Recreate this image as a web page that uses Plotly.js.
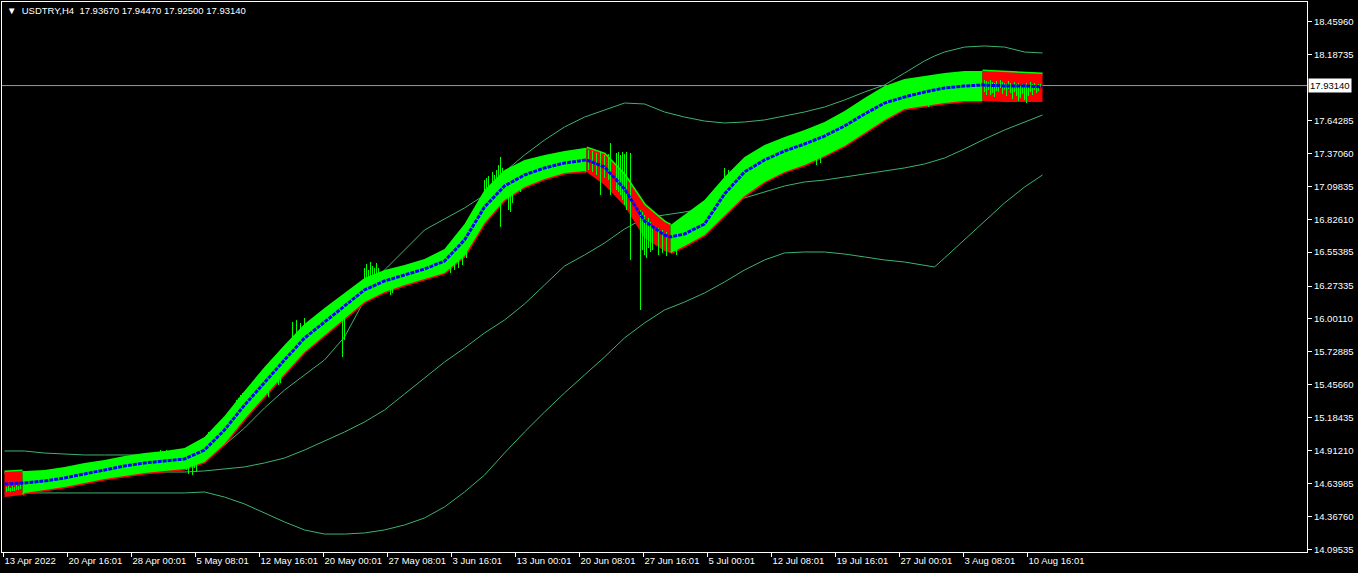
<!DOCTYPE html>
<html>
<head>
<meta charset="utf-8">
<script src="https://cdn.plot.ly/plotly-3.0.1.min.js"></script>
<style>
html,body{margin:0;padding:0;background:#000;}
#chart{width:1358px;height:573px;}
</style>
</head>
<body>
<div id="chart"></div>
<script>
// ---------- data ----------
const symbolTitle = 'USDTRY,H4';
const lastOHLC = ['17.93670', '17.94470', '17.92500', '17.93140'];
const lastPrice = 17.9314;
const lastPriceLabel = '17.93140';

// x tick labels (bar index positions, H4 bars)
const xTickIdx = [-0.5, 31.5, 63.5, 95.5, 127.5, 159.5, 191.5, 223.5, 255.5, 287.5, 319.5, 351.5, 383.5, 415.5, 447.5, 479.5, 511.5];
const xTickText = ['13 Apr 2022', '20 Apr 16:01', '28 Apr 00:01', '5 May 08:01', '12 May 16:01', '20 May 00:01', '27 May 08:01', '3 Jun 16:01', '13 Jun 00:01', '20 Jun 08:01', '27 Jun 16:01', '5 Jul 00:01', '12 Jul 08:01', '19 Jul 16:01', '27 Jul 00:01', '3 Aug 08:01', '10 Aug 16:01'];

// price axis labels
const yTickVals = [18.4596, 18.18735, 17.64285, 17.3706, 17.09835, 16.8261, 16.55385, 16.27335, 16.0011, 15.72885, 15.4566, 15.18435, 14.9121, 14.63985, 14.3676, 14.09535];
const yTickText = ['18.45960', '18.18735', '17.64285', '17.37060', '17.09835', '16.82610', '16.55385', '16.27335', '16.00110', '15.72885', '15.45660', '15.18435', '14.91210', '14.63985', '14.36760', '14.09535'];

// colour band (bar index, centre, upper edge, lower edge)
const bandIdx = [0, 9, 10, 20, 30, 40, 50, 60, 70, 80, 90, 100, 110, 120, 130, 140, 150, 160, 170, 180, 190, 200, 210, 220, 230, 240, 250, 260, 270, 280, 290, 291, 300, 310, 320, 330, 333, 340, 350, 360, 370, 380, 390, 400, 410, 420, 430, 440, 450, 460, 470, 480, 489, 500, 510, 519];
const bandMid = [14.636, 14.644, 14.644, 14.661, 14.686, 14.719, 14.752, 14.785, 14.810, 14.826, 14.843, 14.917, 15.083, 15.289, 15.480, 15.662, 15.843, 15.976, 16.108, 16.241, 16.315, 16.365, 16.414, 16.480, 16.654, 16.927, 17.101, 17.192, 17.250, 17.291, 17.316, 17.316, 17.258, 17.076, 16.811, 16.695, 16.679, 16.704, 16.786, 17.035, 17.217, 17.316, 17.390, 17.448, 17.514, 17.597, 17.696, 17.787, 17.837, 17.878, 17.911, 17.928, 17.936, 17.928, 17.928, 17.920];
const bandUp = [14.735, 14.744, 14.744, 14.752, 14.777, 14.810, 14.834, 14.868, 14.892, 14.909, 14.934, 15.025, 15.198, 15.405, 15.604, 15.786, 15.959, 16.092, 16.216, 16.340, 16.406, 16.447, 16.497, 16.580, 16.786, 17.068, 17.233, 17.316, 17.357, 17.390, 17.415, 17.415, 17.365, 17.192, 16.944, 16.803, 16.778, 16.861, 16.985, 17.175, 17.341, 17.440, 17.506, 17.564, 17.630, 17.721, 17.829, 17.928, 17.986, 18.011, 18.035, 18.052, 18.052, 18.044, 18.035, 18.027];
const bandLow = [14.528, 14.545, 14.562, 14.586, 14.611, 14.644, 14.677, 14.702, 14.727, 14.744, 14.760, 14.818, 14.967, 15.174, 15.364, 15.546, 15.728, 15.868, 16.001, 16.141, 16.224, 16.282, 16.332, 16.381, 16.522, 16.795, 16.985, 17.092, 17.159, 17.208, 17.225, 17.217, 17.109, 16.935, 16.671, 16.563, 16.547, 16.604, 16.695, 16.853, 17.018, 17.134, 17.217, 17.274, 17.349, 17.432, 17.539, 17.647, 17.738, 17.762, 17.787, 17.804, 17.804, 17.795, 17.795, 17.795];

// trend segments of the band
const segStart = [0, 9, 291, 333, 489];
const segEnd = [9, 291, 333, 489, 519];
const segTrend = ['down', 'up', 'down', 'up', 'down'];

// envelope lines (upper / middle / lower)
const envIdx = [0, 10, 20, 30, 40, 50, 60, 70, 80, 90, 100, 110, 120, 130, 140, 150, 160, 170, 180, 190, 200, 210, 220, 230, 240, 250, 260, 270, 280, 290, 300, 310, 320, 330, 340, 350, 360, 370, 380, 390, 400, 410, 420, 430, 440, 450, 460, 465, 470, 480, 490, 500, 510, 519];
const envUpper = [14.909, 14.909, 14.892, 14.884, 14.876, 14.876, 14.876, 14.876, 14.876, 14.876, 14.901, 14.958, 15.099, 15.265, 15.413, 15.538, 15.662, 15.852, 16.158, 16.406, 16.571, 16.737, 16.828, 16.919, 17.026, 17.217, 17.357, 17.481, 17.589, 17.671, 17.729, 17.787, 17.779, 17.713, 17.671, 17.638, 17.622, 17.630, 17.647, 17.680, 17.713, 17.754, 17.812, 17.878, 17.936, 18.035, 18.135, 18.176, 18.209, 18.250, 18.259, 18.250, 18.209, 18.201];
const envMiddle = [14.727, 14.727, 14.727, 14.727, 14.727, 14.727, 14.735, 14.735, 14.735, 14.735, 14.744, 14.760, 14.777, 14.810, 14.851, 14.917, 14.992, 15.066, 15.149, 15.248, 15.380, 15.513, 15.645, 15.761, 15.885, 15.992, 16.125, 16.282, 16.439, 16.530, 16.629, 16.745, 16.836, 16.861, 16.886, 16.910, 16.952, 17.001, 17.051, 17.101, 17.134, 17.150, 17.175, 17.200, 17.225, 17.250, 17.283, 17.308, 17.332, 17.407, 17.489, 17.564, 17.630, 17.688];
const envLower = [14.562, 14.562, 14.562, 14.562, 14.562, 14.562, 14.562, 14.562, 14.562, 14.562, 14.570, 14.528, 14.471, 14.396, 14.322, 14.256, 14.222, 14.222, 14.231, 14.256, 14.297, 14.355, 14.446, 14.570, 14.710, 14.892, 15.066, 15.231, 15.389, 15.538, 15.686, 15.844, 15.968, 16.075, 16.141, 16.216, 16.307, 16.406, 16.489, 16.547, 16.555, 16.555, 16.538, 16.514, 16.489, 16.472, 16.447, 16.431, 16.505, 16.654, 16.803, 16.960, 17.092, 17.192];

// price bars (high-low) that show outside / across the band
const barIdx = [1, 2, 3, 4, 5, 6, 7, 8, 78, 79, 80, 81, 91, 92, 93, 94, 95, 96, 100, 102, 115, 116, 117, 118, 119, 120, 132, 137, 138, 144, 146, 148, 150, 152, 154, 156, 169, 170, 180, 181, 182, 183, 184, 185, 186, 187, 193, 194, 223, 225, 227, 229, 231, 240, 241, 242, 244, 245, 246, 247, 248, 249, 252, 253, 254, 258, 292, 294, 296, 298, 300, 302, 303, 306, 307, 308, 309, 310, 311, 313, 318, 319, 320, 321, 322, 323, 324, 327, 329, 331, 336, 360, 362, 406, 408, 462, 490, 491, 492, 493, 494, 495, 496, 497, 498, 499, 500, 501, 502, 503, 504, 505, 506, 507, 508, 509, 510, 511, 512, 513, 514, 515, 516, 517, 518];
const barHigh = [14.611, 14.619, 14.603, 14.619, 14.611, 14.628, 14.619, 14.636, 14.917, 14.909, 14.901, 14.917, 14.876, 14.901, 14.876, 14.917, 14.934, 14.950, 15.000, 15.066, 15.289, 15.331, 15.347, 15.372, 15.389, 15.364, 15.579, 15.703, 15.728, 15.976, 15.992, 15.968, 16.009, 15.976, 16.009, 15.992, 16.158, 16.116, 16.422, 16.456, 16.406, 16.472, 16.439, 16.422, 16.464, 16.422, 16.365, 16.389, 16.571, 16.613, 16.654, 16.720, 16.778, 17.150, 17.167, 17.183, 17.217, 17.192, 17.233, 17.274, 17.341, 17.250, 17.167, 17.150, 17.192, 17.233, 17.398, 17.390, 17.374, 17.382, 17.357, 17.365, 17.456, 17.374, 17.382, 17.357, 17.382, 17.365, 17.382, 17.374, 16.902, 16.886, 16.861, 16.820, 16.836, 16.803, 16.778, 16.753, 16.737, 16.720, 16.720, 17.250, 17.233, 17.481, 17.498, 17.895, 17.977, 17.969, 17.961, 17.977, 17.961, 17.953, 17.969, 17.944, 17.977, 17.961, 17.953, 17.944, 17.969, 17.953, 17.936, 17.961, 17.944, 17.953, 17.928, 17.944, 17.936, 17.953, 17.928, 17.961, 17.944, 17.953, 17.936, 17.944, 17.945];
const barLow = [14.570, 14.578, 14.570, 14.578, 14.578, 14.586, 14.586, 14.595, 14.785, 14.768, 14.777, 14.793, 14.752, 14.719, 14.785, 14.710, 14.768, 14.735, 14.818, 14.868, 15.083, 15.099, 15.124, 15.165, 15.182, 15.207, 15.356, 15.455, 15.471, 15.744, 15.786, 15.810, 15.827, 15.843, 15.860, 15.868, 15.686, 15.827, 16.241, 16.257, 16.224, 16.282, 16.257, 16.274, 16.298, 16.282, 16.199, 16.216, 16.381, 16.406, 16.422, 16.447, 16.505, 16.944, 16.985, 16.902, 16.944, 17.026, 16.985, 17.026, 16.762, 17.068, 16.902, 16.886, 16.960, 17.051, 17.233, 17.217, 17.192, 17.026, 17.167, 17.150, 17.026, 17.068, 17.051, 17.026, 16.985, 16.944, 16.902, 16.489, 16.075, 16.571, 16.530, 16.505, 16.588, 16.555, 16.571, 16.530, 16.547, 16.522, 16.530, 17.026, 17.068, 17.274, 17.291, 17.754, 17.878, 17.853, 17.895, 17.853, 17.870, 17.837, 17.886, 17.878, 17.911, 17.862, 17.895, 17.845, 17.903, 17.870, 17.820, 17.878, 17.845, 17.804, 17.829, 17.862, 17.812, 17.787, 17.845, 17.878, 17.853, 17.895, 17.870, 17.886, 17.925];

// ---------- styles ----------
const GREEN = '#00ff00', RED = '#ff0000', BLUE = '#0000ff', ENV = '#3cb371';
const FONT = 'Liberation Sans, Arial, sans-serif';

const traces = [];

// envelope lines
[envUpper, envMiddle, envLower].forEach(arr => {
  traces.push({x: envIdx, y: arr, mode: 'lines', line: {color: ENV, width: 1}, hoverinfo: 'skip', showlegend: false});
});

// band segments
segStart.forEach((s, k) => {
  const e = segEnd[k];
  const xs = [], lo = [], up = [];
  bandIdx.forEach((ix, j) => { if (ix >= s && ix <= e) { xs.push(ix); lo.push(bandLow[j]); up.push(bandUp[j]); } });
  const fill = segTrend[k] === 'up' ? GREEN : RED;
  const edge = segTrend[k] === 'up' ? RED : GREEN;
  traces.push({x: xs, y: segTrend[k] === 'up' ? lo : up, mode: 'lines', line: {color: edge, width: 3}, hoverinfo: 'skip', showlegend: false});
  traces.push({x: xs, y: lo, mode: 'lines', line: {color: fill, width: 0}, hoverinfo: 'skip', showlegend: false});
  traces.push({x: xs, y: up, mode: 'lines', fill: 'tonexty', fillcolor: fill, line: {color: fill, width: 0}, hoverinfo: 'skip', showlegend: false});
});

// price bars
const bx = [], by = [];
barIdx.forEach((ix, j) => { bx.push(ix, ix, null); by.push(barLow[j], barHigh[j], null); });
traces.push({x: bx, y: by, mode: 'lines', line: {color: GREEN, width: 1}, hoverinfo: 'skip', showlegend: false, connectgaps: false});

// centre line
traces.push({x: bandIdx, y: bandMid, mode: 'lines', line: {color: BLUE, width: 3, dash: '4px,1px'}, hoverinfo: 'skip', showlegend: false});

const layout = {
  width: 1358, height: 573,
  paper_bgcolor: '#000000', plot_bgcolor: '#000000',
  margin: {l: 2, r: 51, t: 2, b: 21, pad: 0},
  showlegend: false,
  font: {family: FONT, size: 9.5, color: '#ffffff'},
  xaxis: {
    range: [-1.25, 651.25], showgrid: false, zeroline: false,
    showline: true, linecolor: '#ffffff', linewidth: 1, mirror: true,
    ticks: 'outside', ticklen: 4, tickcolor: '#ffffff', tickwidth: 1,
    tickmode: 'array', tickvals: xTickIdx, ticktext: xTickText,
    tickangle: 0, automargin: false,
    ticklabelposition: 'outside right',
    tickfont: {family: FONT, size: 9.5, color: '#ffffff'}
  },
  yaxis: {
    range: [14.0735, 18.6226], side: 'right', showgrid: false, zeroline: false,
    showline: true, linecolor: '#ffffff', linewidth: 1, mirror: true,
    ticks: 'outside', ticklen: 4, tickcolor: '#ffffff', tickwidth: 1,
    tickmode: 'array', tickvals: yTickVals, ticktext: yTickText, automargin: false,
    tickfont: {family: FONT, size: 9.5, color: '#ffffff'}
  },
  shapes: [{
    type: 'line', xref: 'paper', x0: 0, x1: 1, yref: 'y', y0: lastPrice, y1: lastPrice,
    line: {color: '#8c9aa8', width: 1}, layer: 'below'
  }],
  annotations: [
    {
      xref: 'paper', yref: 'paper', x: 0, y: 1, xanchor: 'left', yanchor: 'top', xshift: 3, yshift: -1,
      showarrow: false, align: 'left',
      text: '\u25BC\u00a0\u00a0' + symbolTitle + '\u00a0\u00a0' + lastOHLC.join(' '),
      font: {family: FONT, size: 9.5, color: '#ffffff'}
    },
    {
      xref: 'paper', yref: 'y', x: 1, y: lastPrice, xanchor: 'left', yanchor: 'middle', xshift: 1,
      showarrow: false, text: lastPriceLabel, bgcolor: '#ffffff', borderpad: 1,
      font: {family: FONT, size: 9.5, color: '#000000'}
    }
  ]
};

Plotly.newPlot('chart', traces, layout, {staticPlot: true, displayModeBar: false});
</script>
</body>
</html>
